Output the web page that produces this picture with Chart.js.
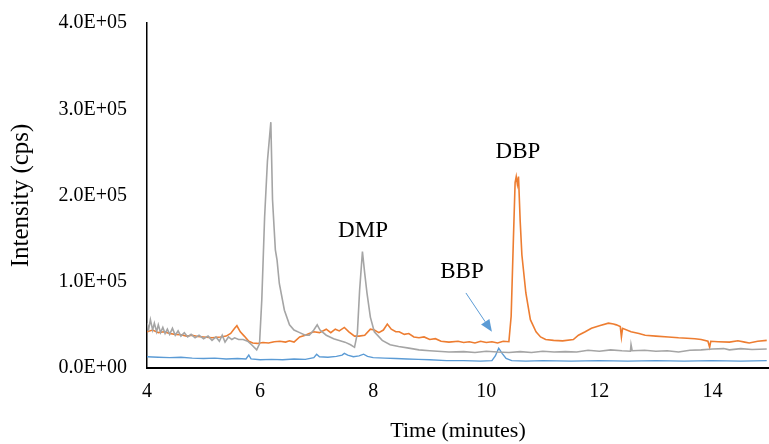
<!DOCTYPE html>
<html>
<head>
<meta charset="utf-8">
<script src="https://cdn.jsdelivr.net/npm/chart.js@4"></script>
<style>
  html, body { margin: 0; padding: 0; background: #fff; }
  #wrap { width: 769px; height: 444px; }
</style>
</head>
<body>
<div id="wrap"><canvas id="chromatogram"></canvas></div>
<script>
// retention time (minutes) and intensity (cps)
var grayTime = [4.00,4.03,4.06,4.10,4.13,4.17,4.20,4.24,4.28,4.32,4.36,4.40,4.45,4.50,4.55,4.60,4.66,4.72,4.78,4.85,4.92,5.00,5.08,5.15,5.22,5.28,5.33,5.38,5.44,5.50,5.55,5.62,5.70,5.78,5.85,5.94,5.99,6.03,6.08,6.13,6.19,6.22,6.25,6.27,6.30,6.34,6.43,6.52,6.60,6.70,6.80,6.87,6.95,7.01,7.06,7.17,7.30,7.40,7.50,7.60,7.67,7.72,7.76,7.81,7.85,7.89,7.95,8.02,8.16,8.30,8.45,8.63,8.81,9.00,9.34,9.60,9.80,10.00,10.20,10.40,10.60,10.80,11.00,11.20,11.40,11.60,11.80,12.00,12.20,12.40,12.55,12.56,12.58,12.80,13.00,13.20,13.40,13.60,13.80,14.00,14.20,14.30,14.50,14.70,14.96];
var grayCps  = [52000,45000,56000,44000,52000,42000,50000,41000,47000,40000,45000,39000,46000,38000,43000,37000,41000,36000,39000,35000,38000,34000,37000,32000,36000,31000,38000,30000,36000,33000,35000,33000,33000,31000,27000,21000,28000,79000,175000,240000,285000,195000,160000,137000,125000,98000,67000,50000,44000,41000,38000,38000,44000,50000,44000,38000,34000,32000,30000,27000,24000,40000,90000,135000,110000,87000,59000,42000,32000,27000,25000,23000,21000,20000,18500,19000,18000,19500,18500,18000,19000,18000,19500,18500,19000,18500,20500,19500,21000,20000,19500,27000,20000,20500,19500,20000,18500,20500,21000,22000,22500,21000,22500,21500,22000];

var orangeTime = [4.00,4.10,4.20,4.30,4.40,4.50,4.60,4.70,4.80,4.90,5.00,5.15,5.30,5.40,5.48,5.55,5.59,5.65,5.72,5.80,5.87,5.95,6.05,6.15,6.25,6.35,6.45,6.52,6.60,6.70,6.80,6.87,6.95,7.05,7.17,7.25,7.33,7.40,7.49,7.57,7.67,7.75,7.85,7.95,8.02,8.10,8.18,8.25,8.32,8.40,8.46,8.55,8.63,8.72,8.81,8.90,9.00,9.10,9.20,9.34,9.50,9.60,9.70,9.80,9.90,10.00,10.10,10.20,10.30,10.40,10.44,10.48,10.51,10.53,10.55,10.57,10.60,10.63,10.70,10.78,10.88,10.96,11.05,11.19,11.35,11.54,11.63,11.75,11.86,12.00,12.16,12.25,12.30,12.37,12.39,12.41,12.56,12.70,12.81,13.00,13.22,13.40,13.55,13.69,13.80,13.92,13.95,13.97,14.10,14.30,14.45,14.57,14.65,14.80,14.96];
var orangeCps  = [42000,44000,41000,42000,40000,39000,38500,37000,38000,36500,36000,35000,36000,37000,40000,46000,49000,42000,37000,31000,29000,28500,29500,29000,30500,31000,30000,31500,30000,36000,38000,40000,42000,41000,45000,41000,45000,43000,47000,42000,37000,37000,38000,45000,44000,41000,44000,51000,45000,42000,42000,39000,40000,36000,35000,36000,33000,34000,31000,30000,31000,29500,30500,29000,31000,29500,30500,29000,31000,30500,60000,150000,215000,222000,213000,222000,170000,131000,87000,56000,42000,36000,33000,32000,31500,33000,38000,42000,46000,49000,52000,51000,50000,48000,36000,46000,42000,40000,38000,37000,36000,35000,34500,34000,33000,31000,24000,31000,30500,30000,31500,30000,29000,31000,32000];

var blueTime = [4.00,4.20,4.40,4.60,4.80,5.00,5.20,5.40,5.60,5.75,5.80,5.84,6.00,6.20,6.40,6.60,6.80,6.95,7.00,7.05,7.20,7.35,7.45,7.49,7.55,7.65,7.75,7.83,7.90,8.00,8.20,8.40,8.60,8.80,9.00,9.30,9.60,9.90,10.10,10.16,10.22,10.28,10.35,10.45,10.70,11.00,11.50,12.00,12.50,13.00,13.50,14.00,14.50,14.96];
var blueCps  = [13000,12500,12000,12500,11500,11000,11500,10500,11000,10500,15000,10500,9500,10000,9500,10500,10000,12000,16000,13000,12500,13500,15000,17000,15000,13000,14000,16000,13500,12000,11500,11000,10500,10000,9500,8500,8500,8000,8500,14000,23000,17000,11000,8500,8000,8500,8000,8500,8000,8500,8000,8500,8000,8500];

var xTicks = [4, 6, 8, 10, 12, 14];
var yTicks = [0, 100000, 200000, 300000, 400000];
var yTickLabels = ['0.0E+00', '1.0E+05', '2.0E+05', '3.0E+05', '4.0E+05'];

// peak labels (time, intensity) and the BBP arrow
var peakNames = ['DMP', 'DBP', 'BBP'];
var peakLabelTime = [7.82, 10.56, 9.57];
var peakLabelCps = [159000, 250000, 111000];
var arrowFrom = [9.64, 87000];
var arrowTo = [10.10, 42000];

function toPoints(xs, ys) {
    return xs.map(function(x, i) { return { x: x, y: ys[i] }; });
}

var serif = "'Liberation Serif', 'Times New Roman', serif";

var peakLabels = {
    id: 'peakLabels',
    afterDatasetsDraw: function(chart) {
        var ctx = chart.ctx;
        var xs = chart.scales.x, ys = chart.scales.y;
        ctx.save();
        ctx.fillStyle = '#000';
        ctx.font = '23px ' + serif;
        ctx.textAlign = 'center';
        ctx.textBaseline = 'middle';
        peakNames.forEach(function(name, i) {
            ctx.fillText(name, xs.getPixelForValue(peakLabelTime[i]), ys.getPixelForValue(peakLabelCps[i]));
        });
        var x1 = xs.getPixelForValue(arrowFrom[0]), y1 = ys.getPixelForValue(arrowFrom[1]);
        var x2 = xs.getPixelForValue(arrowTo[0]), y2 = ys.getPixelForValue(arrowTo[1]);
        var ang = Math.atan2(y2 - y1, x2 - x1);
        var head = 12;
        ctx.strokeStyle = '#5B9BD5';
        ctx.fillStyle = '#5B9BD5';
        ctx.lineWidth = 1;
        ctx.beginPath();
        ctx.moveTo(x1, y1);
        ctx.lineTo(x2 - head * Math.cos(ang), y2 - head * Math.sin(ang));
        ctx.stroke();
        ctx.beginPath();
        ctx.moveTo(x2, y2);
        ctx.lineTo(x2 - head * Math.cos(ang) + 5 * Math.sin(ang), y2 - head * Math.sin(ang) - 5 * Math.cos(ang));
        ctx.lineTo(x2 - head * Math.cos(ang) - 5 * Math.sin(ang), y2 - head * Math.sin(ang) + 5 * Math.cos(ang));
        ctx.closePath();
        ctx.fill();
        ctx.restore();
    }
};

var ctx = document.getElementById('chromatogram').getContext('2d');
var chromChart = new Chart(ctx, {
    type: 'line',
    data: {
        datasets: [{
            label: 'DMP',
            data: toPoints(grayTime, grayCps),
            borderColor: '#A5A5A5',
            borderWidth: 1.6
        }, {
            label: 'DBP',
            data: toPoints(orangeTime, orangeCps),
            borderColor: '#ED7D31',
            borderWidth: 1.6
        }, {
            label: 'BBP',
            data: toPoints(blueTime, blueCps),
            borderColor: '#5B9BD5',
            borderWidth: 1.4
        }]
    },
    options: {
        responsive: true,
        maintainAspectRatio: false,
        animation: false,
        elements: { point: { radius: 0 }, line: { tension: 0 } },
        layout: { padding: { top: 23, right: 0, left: 0, bottom: 0 } },
        plugins: { legend: { display: false }, tooltip: { enabled: false } },
        scales: {
            x: {
                type: 'linear',
                min: 4,
                max: 15,
                grid: { display: false, drawTicks: false },
                border: { display: true, color: '#000', width: 2 },
                afterBuildTicks: function(scale) {
                    scale.ticks = xTicks.map(function(v) { return { value: v }; });
                },
                afterFit: function(scale) {
                    scale.height = 76;
                    scale.paddingLeft = 0;
                    scale.paddingRight = 0;
                },
                ticks: {
                    color: '#000',
                    padding: 12,
                    maxRotation: 0,
                    font: { family: serif, size: 20 }
                },
                title: {
                    display: true,
                    text: 'Time (minutes)',
                    color: '#000',
                    padding: { top: 6, bottom: 0 },
                    font: { family: serif, size: 22 }
                }
            },
            y: {
                min: 0,
                max: 400000,
                grid: { display: false, drawTicks: false },
                border: { display: true, color: '#000', width: 1.5 },
                afterBuildTicks: function(scale) {
                    scale.ticks = yTicks.map(function(v) { return { value: v }; });
                },
                afterFit: function(scale) {
                    scale.width = 147;
                    scale.paddingTop = 0;
                    scale.paddingBottom = 0;
                },
                ticks: {
                    color: '#000',
                    padding: 20,
                    font: { family: serif, size: 20 },
                    callback: function(value) {
                        return yTickLabels[yTicks.indexOf(value)];
                    }
                },
                title: {
                    display: true,
                    text: 'Intensity (cps)',
                    color: '#000',
                    padding: { top: 6, bottom: 0 },
                    font: { family: serif, size: 25 }
                }
            }
        }
    },
    plugins: [peakLabels]
});
</script>
</body>
</html>
